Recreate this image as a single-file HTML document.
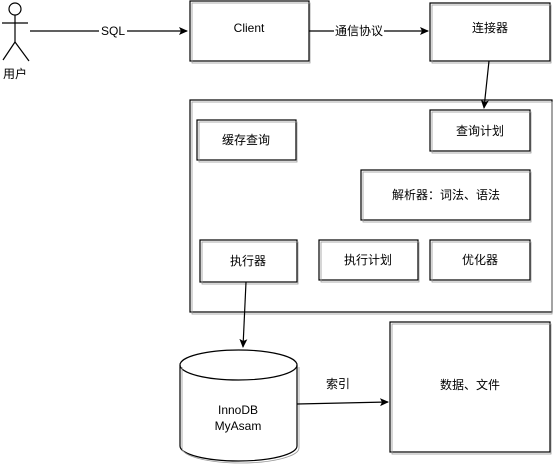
<!DOCTYPE html>
<html><head><meta charset="utf-8"><style>
html,body{margin:0;padding:0;background:#fff;}
svg{display:block;}
text{font-family:"Liberation Sans","Noto Sans CJK SC",sans-serif;font-size:12px;fill:#000;}
</style></head><body>
<svg width="553" height="464" viewBox="0 0 553 464" xmlns="http://www.w3.org/2000/svg">
<defs><marker id="a" markerWidth="10" markerHeight="10" refX="8" refY="5" orient="auto" markerUnits="userSpaceOnUse"><path d="M0,1 L9,5 L0,9 L2,5 Z" fill="#000"/></marker></defs>
<g fill="none" stroke="#000" stroke-width="1.2">
<!-- stick figure -->
<circle cx="15" cy="9" r="6"/>
<line x1="15" y1="15" x2="15" y2="42"/>
<line x1="2" y1="23" x2="28" y2="23"/>
<line x1="15" y1="42" x2="3" y2="60"/>
<line x1="15" y1="42" x2="29" y2="61"/>
<!-- boxes -->
<rect x="190" y="1" width="119" height="60"/>
<rect x="192" y="3" width="118" height="60" stroke="#999" stroke-width="0.8"/>
<rect x="430" y="3" width="120" height="58"/>
<rect x="432" y="5" width="119" height="58" stroke="#999" stroke-width="0.8"/>
<rect x="190" y="100" width="362" height="212"/>
<rect x="192" y="102" width="360" height="212" stroke="#999" stroke-width="0.8"/>
<rect x="197" y="120" width="99" height="40"/>
<rect x="199" y="122" width="98" height="40" stroke="#999" stroke-width="0.8"/>
<rect x="430" y="110" width="100" height="41"/>
<rect x="432" y="112" width="99" height="41" stroke="#999" stroke-width="0.8"/>
<rect x="361" y="170" width="169" height="50"/>
<rect x="363" y="172" width="168" height="50" stroke="#999" stroke-width="0.8"/>
<rect x="200" y="240" width="97" height="42"/>
<rect x="202" y="242" width="96" height="42" stroke="#999" stroke-width="0.8"/>
<rect x="319" y="240" width="99" height="40"/>
<rect x="321" y="242" width="98" height="40" stroke="#999" stroke-width="0.8"/>
<rect x="430" y="240" width="100" height="40"/>
<rect x="432" y="242" width="99" height="40" stroke="#999" stroke-width="0.8"/>
<rect x="390" y="322" width="160" height="130"/>
<rect x="392" y="324" width="159" height="130" stroke="#999" stroke-width="0.8"/>
<!-- cylinder -->
<path d="M180,365 L180,446 A58.5,15 0 0 0 297,446 L297,365"/>
<ellipse cx="238.5" cy="365" rx="58.5" ry="15"/>
<path d="M182,367 L182,448 A58.5,15 0 0 0 299,448 L299,367" stroke="#999" stroke-width="0.8"/>
<!-- arrows -->
<line x1="30" y1="31" x2="187" y2="31" marker-end="url(#a)"/>
<line x1="309" y1="31" x2="428" y2="31" marker-end="url(#a)"/>
<line x1="489" y1="61" x2="484" y2="108" marker-end="url(#a)"/>
<line x1="246" y1="282" x2="243" y2="347" marker-end="url(#a)"/>
<line x1="297" y1="404" x2="388" y2="402" marker-end="url(#a)"/>
</g>
<rect x="99" y="24" width="28" height="14" fill="#fff"/>
<text x="113" y="35" text-anchor="middle">SQL</text>
<rect x="334" y="24" width="50" height="14" fill="#fff"/>
<text x="359" y="35" text-anchor="middle">通信协议</text>
<text x="15" y="78" text-anchor="middle">用户</text>
<text x="249" y="32" text-anchor="middle">Client</text>
<text x="490" y="32" text-anchor="middle">连接器</text>
<text x="246" y="144" text-anchor="middle">缓存查询</text>
<text x="480" y="135" text-anchor="middle">查询计划</text>
<text x="446" y="199" text-anchor="middle">解析器：词法、语法</text>
<text x="248" y="265" text-anchor="middle">执行器</text>
<text x="368" y="264" text-anchor="middle">执行计划</text>
<text x="480" y="264" text-anchor="middle">优化器</text>
<text x="338" y="388" text-anchor="middle">索引</text>
<text x="470" y="389" text-anchor="middle">数据、文件</text>
<text x="238" y="414" text-anchor="middle">InnoDB</text>
<text x="238" y="430" text-anchor="middle">MyAsam</text>
</svg>
</body></html>
